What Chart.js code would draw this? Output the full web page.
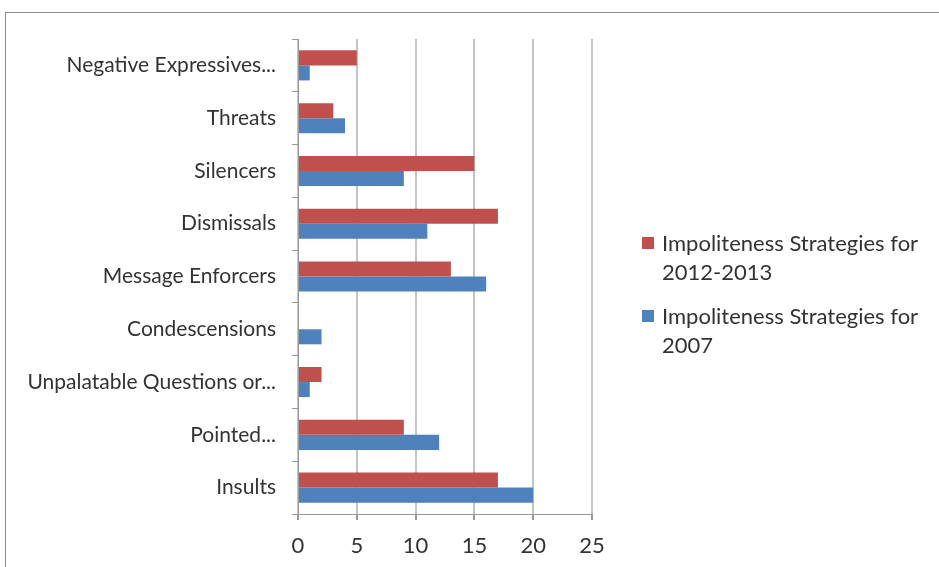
<!DOCTYPE html>
<html>
<head>
<meta charset="utf-8">
<script src="https://cdn.jsdelivr.net/npm/chart.js@4"></script>
<style>
    html, body { margin: 0; padding: 0; background: #fff; }
    body { width: 939px; height: 567px; position: relative; overflow: hidden; font-family: Lato, 'Noto Sans', sans-serif; }
    .frame { position: absolute; left: 5px; top: 12px; width: 960px; height: 600px; border: 1px solid #8e8e8e; box-shadow: 1px 1px 2px #ccc; }
    #chart { position: absolute; left: 0; top: 0; }
    .legend { position: absolute; left: 642px; top: 228px; color: #333; font-size: 22px; line-height: 29px; }
    .legend .item { position: relative; padding-left: 20px; margin-bottom: 15px; white-space: nowrap; }
    .legend .box { position: absolute; left: 0; top: 9px; width: 12px; height: 12px; }
</style>
</head>
<body>
<div class="frame"></div>
<canvas id="chart" width="939" height="567"></canvas>
<div class="legend" id="legend"></div>
<script>
const categories = [
    'Negative Expressives...',
    'Threats',
    'Silencers',
    'Dismissals',
    'Message Enforcers',
    'Condescensions',
    'Unpalatable Questions or...',
    'Pointed...',
    'Insults'
];
const series2012 = [5, 3, 15, 17, 13, 0, 2, 9, 17];
const series2007 = [1, 4, 9, 11, 16, 2, 1, 12, 20];
const xTicks = [0, 5, 10, 15, 20, 25];

const RED = '#c0504d';
const BLUE = '#4f81bd';
const TEXT = '#333333';
const GRID = '#c4c4c4';

const datasets = [
    { label: ['Impoliteness Strategies for', '2012-2013'], data: series2012, backgroundColor: RED },
    { label: ['Impoliteness Strategies for', '2007'], data: series2007, backgroundColor: BLUE }
];

// legend wraps its text, so it is built outside the canvas
let legend = document.getElementById('legend');
datasets.forEach(ds => {
    let item = document.createElement('div');
    item.className = 'item';
    item.innerHTML = '<span class="box" style="background:' + ds.backgroundColor + '"></span>' + ds.label.join('<br>');
    legend.append(item);
});

const config = {
    type: 'bar',
    data: {
        labels: categories,
        datasets: datasets.map(ds => ({
            label: ds.label.join(' '),
            data: ds.data,
            backgroundColor: ds.backgroundColor,
            barPercentage: 1.0,
            categoryPercentage: 0.57
        }))
    },
    options: {
        indexAxis: 'y',
        responsive: false,
        animation: false,
        layout: {
            padding: { left: 0, top: 39, right: 347, bottom: 8 }
        },
        plugins: {
            legend: { display: false },
            tooltip: { enabled: false }
        },
        scales: {
            x: {
                min: 0,
                max: 25,
                afterBuildTicks: s => { s.ticks = xTicks.map(v => ({ value: v })); },
                afterFit: s => { s.height = 45; },
                grid: {
                    color: GRID,
                    lineWidth: 2,
                    tickLength: 6,
                    tickColor: '#999'
                },
                border: { color: '#999', width: 1 },
                ticks: {
                    color: TEXT,
                    padding: 13,
                    font: { family: 'Lato', size: 22 }
                }
            },
            y: {
                afterFit: s => { s.width = 298; },
                grid: {
                    drawOnChartArea: false,
                    tickLength: 6,
                    tickColor: '#999'
                },
                border: { color: '#999', width: 1 },
                ticks: {
                    color: TEXT,
                    padding: 16,
                    font: { family: 'Lato', size: 21 }
                }
            }
        }
    }
};

const chart = new Chart(document.getElementById('chart'), config);
</script>
</body>
</html>
